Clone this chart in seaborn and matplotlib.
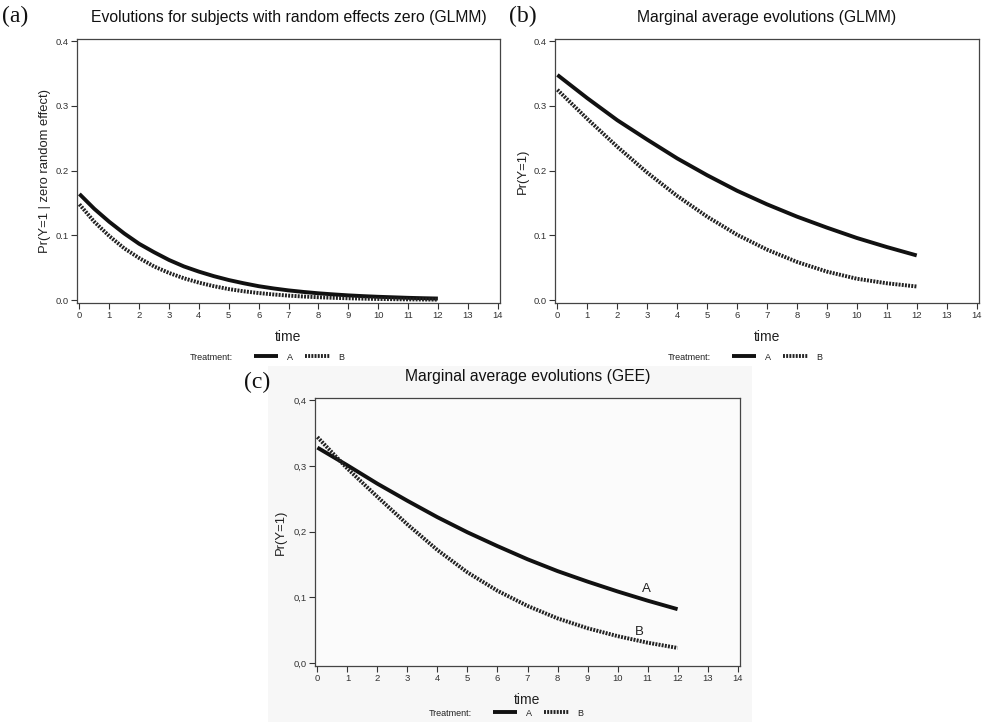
import matplotlib
matplotlib.use("Agg")
import matplotlib.pyplot as plt
import pandas as pd
import seaborn as sns
from matplotlib.lines import Line2D
from matplotlib.patches import Rectangle

# ---------------- data ----------------
time = [0, 1, 2, 3, 4, 5, 6, 7, 8, 9, 10, 11, 12]
time_half = [0, 0.5, 1, 1.5, 2, 2.5, 3, 3.5, 4, 4.5, 5, 5.5, 6, 6.5, 7, 7.5,
             8, 8.5, 9, 9.5, 10, 10.5, 11, 11.5, 12]
treatments = ["A", "B"]

# (a) subject-specific evolutions (random effects zero, GLMM), read every half unit
a_A = [0.164, 0.141, 0.121, 0.103, 0.087, 0.074, 0.062, 0.052, 0.044, 0.037, 0.031,
       0.026, 0.0215, 0.018, 0.015, 0.0126, 0.0105, 0.0088, 0.0073, 0.0061, 0.0051,
       0.0043, 0.0035, 0.0029, 0.0024]
a_B = [0.148, 0.121, 0.099, 0.080, 0.065, 0.052, 0.042, 0.0337, 0.027, 0.0215, 0.017,
       0.0136, 0.0109, 0.0087, 0.0069, 0.0055, 0.0044, 0.0035, 0.0028, 0.0022, 0.0017,
       0.0014, 0.0011, 0.0009, 0.0007]

# (b) marginal average evolutions (GLMM)
b_A = [0.348, 0.312, 0.278, 0.248, 0.219, 0.193, 0.169, 0.148, 0.129, 0.112, 0.096, 0.082, 0.069]
b_B = [0.325, 0.280, 0.237, 0.197, 0.161, 0.129, 0.101, 0.078, 0.059, 0.044, 0.033, 0.026, 0.021]

# (c) marginal average evolutions (GEE)
c_A = [0.328, 0.301, 0.273, 0.247, 0.222, 0.199, 0.178, 0.158, 0.140, 0.124, 0.109, 0.095, 0.082]
c_B = [0.344, 0.296, 0.253, 0.211, 0.172, 0.138, 0.110, 0.087, 0.068, 0.053, 0.041, 0.031, 0.023]

x_ticks = list(range(0, 15))
y_ticks = [0.0, 0.1, 0.2, 0.3, 0.4]
y_labels_dot = ["0.0", "0.1", "0.2", "0.3", "0.4"]
y_labels_comma = ["0,0", "0,1", "0,2", "0,3", "0,4"]

titles = ["Evolutions for subjects with random effects zero (GLMM)",
          "Marginal average evolutions (GLMM)",
          "Marginal average evolutions (GEE)"]
ylabels = ["Pr(Y=1 | zero random effect)", "Pr(Y=1)", "Pr(Y=1)"]
panel_tags = ["(a)", "(b)", "(c)"]


def long_df(t, yA, yB):
    return pd.DataFrame({
        "time": list(t) * 2,
        "prob": list(yA) + list(yB),
        "Treatment": ["A"] * len(t) + ["B"] * len(t),
    })


# ---------------- style ----------------
sns.set_theme(style="white")
plt.rcParams["font.family"] = ["Liberation Sans", "DejaVu Sans"]
plt.rcParams["lines.solid_capstyle"] = "butt"

W, H = 982, 722
fig = plt.figure(figsize=(W / 100, H / 100), dpi=100)
fig.patch.set_facecolor("white")

# light grey background behind panel (c)
fig.add_artist(Rectangle((268 / W, 0), (752 - 268) / W, (722 - 366) / H,
                         transform=fig.transFigure, facecolor="#f7f7f7",
                         edgecolor="none", zorder=-5))


def ax_px(l, t, r, b):
    return fig.add_axes([l / W, 1 - b / H, (r - l) / W, (b - t) / H])


LW = 2.8
DASH = (0.5, 0.32)
palette = {"A": "#111111", "B": "#222222"}
dashes = {"A": "", "B": DASH}

panels = [
    dict(box=(77, 39, 500, 303), t=time_half, yA=a_A, yB=a_B, comma=False, ylx=51),
    dict(box=(555, 39, 979, 303), t=time, yA=b_A, yB=b_B, comma=False, ylx=529),
    dict(box=(315, 398, 740, 666), t=time, yA=c_A, yB=c_B, comma=True, ylx=287),
]

axes = []
for i, p in enumerate(panels):
    ax = ax_px(*p["box"])
    axes.append(ax)
    df = long_df(p["t"], p["yA"], p["yB"])
    sns.lineplot(data=df, x="time", y="prob", hue="Treatment", style="Treatment",
                 palette=palette, dashes=dashes, linewidth=LW, legend=False,
                 ax=ax, estimator=None, sort=True)
    ax.set_xlim(-0.08, 14.08)
    ax.set_ylim(-0.0045, 0.4035)
    ax.set_xticks(x_ticks)
    ax.set_xticklabels([str(t) for t in x_ticks])
    ax.set_yticks(y_ticks)
    ax.set_yticklabels(y_labels_comma if p["comma"] else y_labels_dot)
    ax.tick_params(axis="both", which="major", direction="out", length=4, width=0.8,
                   labelsize=6.8, colors="#333333", pad=2, bottom=True, left=True)
    for s in ax.spines.values():
        s.set_color("#444444")
        s.set_linewidth(0.9)
    ax.set_xlabel("time", fontsize=10, color="#222222", labelpad=7)
    ax.set_ylabel(ylabels[i], fontsize=9.4, color="#222222")
    ax.yaxis.set_label_coords((p["ylx"] - p["box"][0]) / (p["box"][2] - p["box"][0]), 0.5)
    ax.set_title(titles[i], fontsize=11.3, color="#111111", pad=12)
    ax.set_facecolor("#fbfbfb" if p["comma"] else "white")

# panel tags in serif
fig.text(2 / W, 1 - 16 / H, panel_tags[0], fontsize=17, family="Liberation Serif",
         va="center", ha="left", color="#111111")
fig.text(509 / W, 1 - 16 / H, panel_tags[1], fontsize=17, family="Liberation Serif",
         va="center", ha="left", color="#111111")
fig.text(244 / W, 1 - 382 / H, panel_tags[2], fontsize=17, family="Liberation Serif",
         va="center", ha="left", color="#111111")

# in-plot labels for panel (c)
axes[2].text(10.97, 0.113, "A", fontsize=9.5, color="#222222", ha="center", va="center")
axes[2].text(10.74, 0.0475, "B", fontsize=9.5, color="#222222", ha="center", va="center")

# legends below each panel
handles = [Line2D([], [], color=palette["A"], lw=LW, linestyle="-", solid_capstyle="butt"),
           Line2D([], [], color=palette["B"], lw=LW, dashes=DASH)]
leg_pos = [(190, 357), (668, 357), (429, 713)]
for (lx, ly) in leg_pos:
    fig.text(lx / W, 1 - ly / H, "Treatment:", fontsize=6.5, color="#222222",
             ha="left", va="center")
    fig.legend(handles, treatments, loc="center left",
               bbox_to_anchor=((lx + 64) / W, 1 - ly / H), ncol=2, frameon=False,
               fontsize=6.5, handlelength=2.7, handletextpad=1.0, columnspacing=1.3,
               borderpad=0, borderaxespad=0, labelcolor="#222222")

fig.savefig("out.png", dpi=100, facecolor="white")
